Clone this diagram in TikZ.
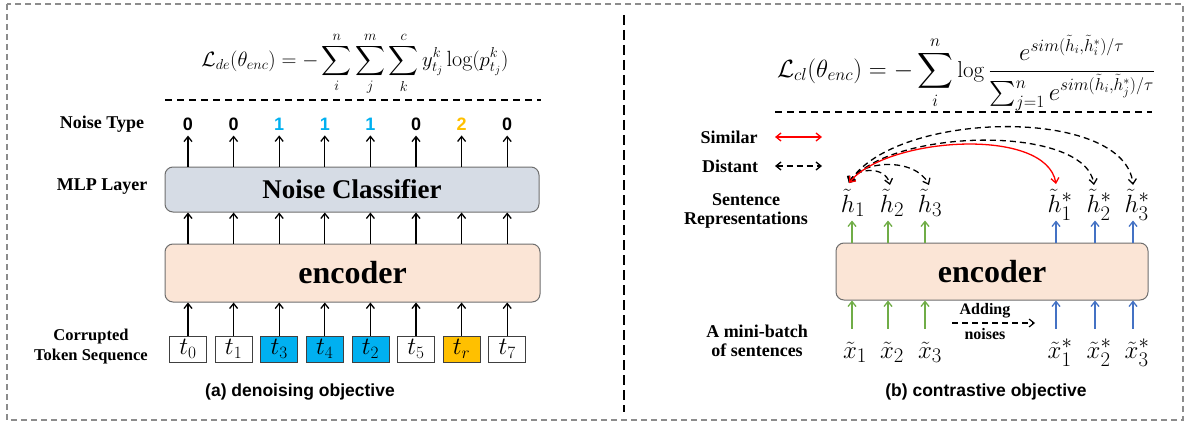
\documentclass[tikz,border=0pt]{standalone}
\usepackage{amsmath}
\usepackage{fontspec}
\usetikzlibrary{arrows.meta,calc}
\newfontfamily\labf{Liberation Serif}
\newfontfamily\capf{Liberation Sans}
\definecolor{cyanb}{HTML}{00B0F0}
\definecolor{orangeb}{HTML}{FFC000}
\definecolor{clsfill}{HTML}{D6DCE5}
\definecolor{encfill}{HTML}{FBE5D6}
\definecolor{greenar}{HTML}{70AD47}
\definecolor{bluear}{HTML}{4472C4}
\definecolor{framegray}{HTML}{8C8C8C}
\definecolor{boxline}{HTML}{6E6E6E}
\begin{document}
\begin{tikzpicture}[x=1pt,y=1pt,
  lab/.style={font=\labf\bfseries\fontsize{18}{20}\selectfont, align=center, inner sep=0pt},
  smalllab/.style={font=\labf\bfseries\fontsize{16}{17}\selectfont, align=center, inner sep=0pt},
  num/.style={font=\capf\bfseries\fontsize{18}{20}\selectfont, inner sep=0pt},
  tok/.style={draw=black!75, line width=0.8pt, minimum width=37pt, minimum height=26pt, inner sep=0pt, font=\fontsize{24}{24}\selectfont},
  blk/.style={draw=boxline, line width=1pt, rounded corners=8pt, inner sep=0pt},
  mathlab/.style={font=\fontsize{30}{30}\selectfont, inner sep=0pt, anchor=base},
  arr/.style={line width=1.3pt, -{Straight Barb[length=5pt,width=8pt]}},
  garr/.style={arr, greenar},
  barr/.style={arr, bluear},
  dist/.style={line width=1.3pt, dash pattern=on 6pt off 4pt, {Straight Barb[length=5pt,width=8pt]}-{Straight Barb[length=5pt,width=8pt]}},
  simarr/.style={line width=1.3pt, red, {Straight Barb[length=5pt,width=8pt]}-{Straight Barb[length=5pt,width=8pt]}},
  caption/.style={font=\capf\bfseries\fontsize{17.5}{19}\selectfont, inner sep=0pt},
  formula/.style={font=\fontsize{22}{26}\selectfont, inner sep=0pt}
]
\useasboundingbox (0,0) rectangle (1188,-425);
% outer frame and divider
\draw[framegray, line width=1.2pt, dash pattern=on 6pt off 4pt] (7,-4) rectangle (1183,-420);
\draw[black, line width=1.3pt, dash pattern=on 10pt off 5pt] (624,-15) -- (624,-412);

% ================= left panel =================
\node[formula] (fde) at (355,-64) {$\displaystyle \mathcal{L}_{de}(\theta_{enc}) = -\sum_{i}^{n}\sum_{j}^{m}\sum_{k}^{c} y_{t_j}^{k}\log(p_{t_j}^{k})$};
\coordinate (dl1) at (165,-100);
\coordinate (dl2) at (541,-100);
\draw[line width=1.3pt, dash pattern=on 7pt off 5pt] (dl1) -- (dl2);

\node[lab] (ntype) at (102,-124) {Noise Type};
\node[lab] (mlp) at (102,-187) {MLP Layer};
\node[lab, font=\labf\bfseries\fontsize{16.5}{20}\selectfont] (corr) at (91,-347) {Corrupted\\Token Sequence};

\node[blk, fill=clsfill, minimum width=374pt, minimum height=45pt] (cls) at (352,-189.5)
  {\labf\bfseries\fontsize{27}{30}\selectfont Noise Classifier};
\node[blk, fill=encfill, minimum width=375pt, minimum height=58pt] (enc) at (352.5,-273)
  {\labf\bfseries\fontsize{32}{34}\selectfont encoder};

\node[tok] (t0) at (188,-349) {$t_0$};
\node[tok] (t1) at (233.6,-349) {$t_1$};
\node[tok, fill=cyanb] (t3) at (279.2,-349) {$t_3$};
\node[tok, fill=cyanb] (t4) at (324.8,-349) {$t_4$};
\node[tok, fill=cyanb] (t2) at (370.4,-349) {$t_2$};
\node[tok] (t5) at (416,-349) {$t_5$};
\node[tok, fill=orangeb] (tr) at (461.6,-349) {$t_r$};
\node[tok] (t7) at (507.2,-349) {$t_7$};

\node[num] (n0) at (188,-124) {0};
\node[num] (n1) at (233.6,-124) {0};
\node[num, cyanb] (n2) at (279.2,-124) {1};
\node[num, cyanb] (n3) at (324.8,-124) {1};
\node[num, cyanb] (n4) at (370.4,-124) {1};
\node[num] (n5) at (416,-124) {0};
\node[num, orangeb] (n6) at (461.6,-124) {2};
\node[num] (n7) at (507.2,-124) {0};

\foreach \t/\n in {t0/n0,t1/n1,t3/n2,t4/n3,t2/n4,t5/n5,tr/n6,t7/n7}{
  \draw[arr] (\t.north) -- (\t |- enc.south);
  \draw[arr] (\t |- enc.north) -- (\t |- cls.south);
  \draw[arr, shorten >=5pt] (\t |- cls.north) -- (\n.south);
}

\node[caption] (capa) at (300,-392) {(a) denoising objective};

% ================= right panel =================
\node[formula, font=\fontsize{23}{27}\selectfont] (fcl) at (966,-73) {$\displaystyle \mathcal{L}_{cl}(\theta_{enc}) = -\sum_{i}^{n}\log\frac{e^{sim(\tilde{h}_i,\tilde{h}_i^{*})/\tau}}{\sum_{j=1}^{n} e^{sim(\tilde{h}_i,\tilde{h}_j^{*})/\tau}}$};
\coordinate (dr1) at (775,-112);
\coordinate (dr2) at (1152,-112);
\draw[line width=1.3pt, dash pattern=on 7pt off 5pt] (dr1) -- (dr2);

\node[lab] (sim) at (729,-137) {Similar};
\node[lab] (dst) at (730,-166) {Distant};
\coordinate (simA) at (775,-137);
\coordinate (simB) at (822,-137);
\coordinate (dstA) at (775,-166);
\coordinate (dstB) at (822,-166);
\draw[simarr] (simA) -- (simB);
\draw[dist] (dstA) -- (dstB);

\node[lab] (srep) at (746,-211) {Sentence\\[-1pt]Representations};
\node[lab] (mb) at (757,-341) {A mini-batch\\[-1pt]of sentences};

\node[blk, fill=encfill, minimum width=312pt, minimum height=57pt] (enc2) at (992,-271.5)
  {\labf\bfseries\fontsize{32}{34}\selectfont encoder};

\node[mathlab] (h1) at (853,-212) {$\tilde{h}_1$};
\node[mathlab] (h2) at (892,-212) {$\tilde{h}_2$};
\node[mathlab] (h3) at (930,-212) {$\tilde{h}_3$};
\node[mathlab] (hs1) at (1060,-212) {$\tilde{h}_1^{*}$};
\node[mathlab] (hs2) at (1099,-212) {$\tilde{h}_2^{*}$};
\node[mathlab] (hs3) at (1137,-212) {$\tilde{h}_3^{*}$};

\node[mathlab] (x1) at (855,-358) {$\tilde{x}_1$};
\node[mathlab] (x2) at (892,-358) {$\tilde{x}_2$};
\node[mathlab] (x3) at (930,-358) {$\tilde{x}_3$};
\node[mathlab] (xs1) at (1060,-358) {$\tilde{x}_1^{*}$};
\node[mathlab] (xs2) at (1099,-358) {$\tilde{x}_2^{*}$};
\node[mathlab] (xs3) at (1137,-358) {$\tilde{x}_3^{*}$};

\coordinate (g1) at (852,0); \coordinate (g2) at (888,0); \coordinate (g3) at (925,0);
\coordinate (b1) at (1056,0); \coordinate (b2) at (1095,0); \coordinate (b3) at (1133,0);
\foreach \c in {g1,g2,g3}{
  \draw[garr] (\c |- enc2.north) -- ($(\c |- enc2.north)+(0,22)$);
  \draw[garr] ($(\c |- enc2.south)+(0,-28)$) -- (\c |- enc2.south);
}
\foreach \c in {b1,b2,b3}{
  \draw[barr] (\c |- enc2.north) -- ($(\c |- enc2.north)+(0,22)$);
  \draw[barr] ($(\c |- enc2.south)+(0,-28)$) -- (\c |- enc2.south);
}

\node[smalllab] (add) at (985,-311) {Adding};
\node[smalllab] (noi) at (985,-334) {noises};
\coordinate (adA) at (952,-323);
\coordinate (adB) at (1035,-323);
\draw[line width=1.2pt, dash pattern=on 6pt off 4pt, -{Straight Barb[length=5pt,width=8pt]}] (adA) -- (adB);

% curves
\coordinate (h1t) at (849,-183);
\coordinate (h2t) at (890,-185);
\coordinate (h3t) at (929,-185);
\coordinate (hs1t) at (1056,-184);
\coordinate (hs2t) at (1094,-185);
\coordinate (hs3t) at (1133,-185);
\draw[dist] (h1t) .. controls (855,-168) and (885,-165) .. (h2t);
\draw[dist] (h1t) .. controls (860,-160) and (915,-157) .. (h3t);
\draw[dist] (h1t) .. controls (890,-128) and (1085,-124) .. (hs2t);
\draw[dist] (h1t) .. controls (895,-110) and (1125,-106) .. (hs3t);
\draw[simarr] (h1t) .. controls (886,-137) and (1046,-126) .. (hs1t);

\node[caption] (capb) at (986,-392) {(b) contrastive objective};
\end{tikzpicture}
\end{document}
